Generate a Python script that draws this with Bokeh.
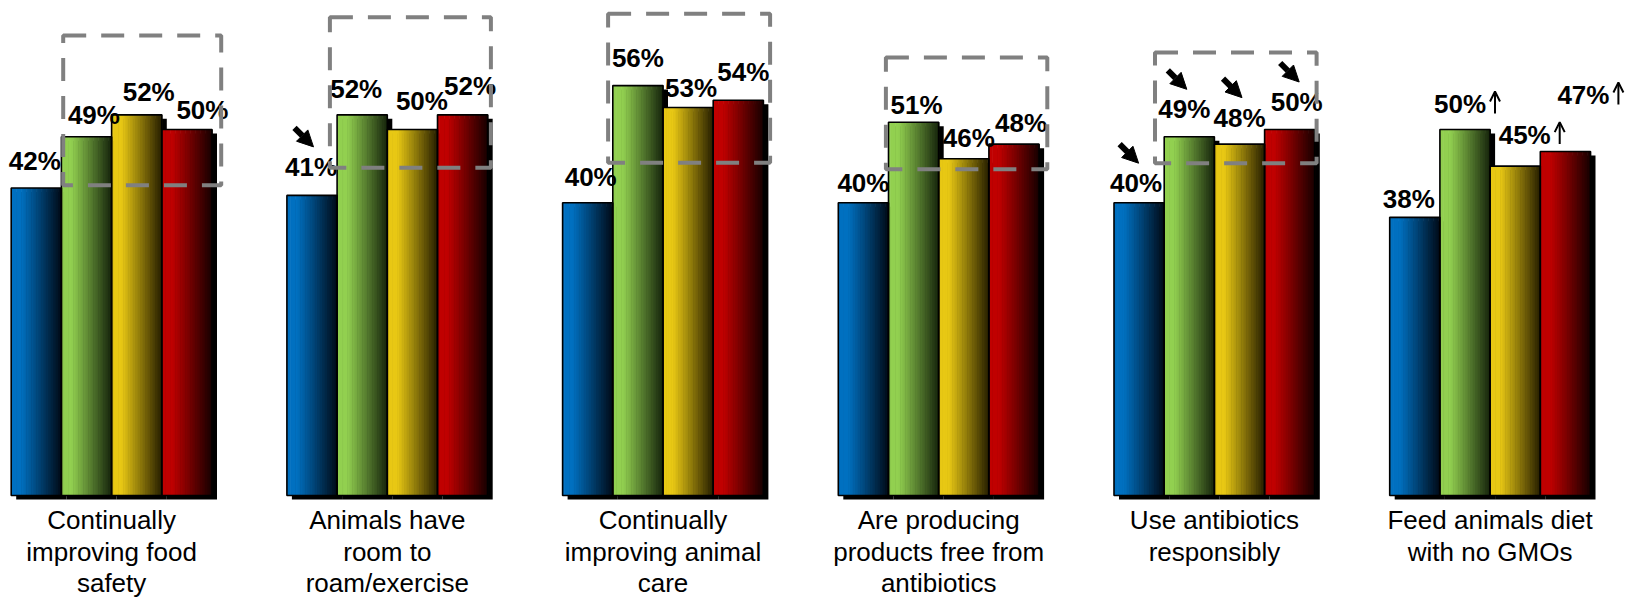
import numpy as np
from bokeh.plotting import figure
from bokeh.models import Range1d, ColumnDataSource, Arrow, NormalHead, OpenHead
from bokeh.core.properties import value
from bokeh.embed import file_html
from bokeh.resources import INLINE

# ---------------- data ----------------
categories = [
    "Continually\nimproving food\nsafety",
    "Animals have\nroom to\nroam/exercise",
    "Continually\nimproving animal\ncare",
    "Are producing\nproducts free from\nantibiotics",
    "Use antibiotics\nresponsibly",
    "Feed animals diet\nwith no GMOs",
]
series_blue = [42, 41, 40, 40, 40, 38]
series_green = [49, 52, 56, 51, 49, 50]
series_yellow = [52, 50, 53, 46, 48, 45]
series_red = [50, 52, 54, 48, 50, 47]
# significance markers ("down" = heavy diagonal arrow, "up" = thin up arrow)
trend_blue = ["", "down", "", "", "down", ""]
trend_green = ["", "", "", "", "down", "up"]
trend_yellow = ["", "", "", "", "down", "up"]
trend_red = ["", "", "", "", "down", "up"]
# highlighted groups (dashed boxes) and their vertical extent in %
box_groups = [0, 1, 2, 3, 4]
box_low = [42.1, 44.5, 45.2, 44.3, 45.1]
box_high = [63.1, 65.6, 66.1, 60.1, 60.8]

series = [series_blue, series_green, series_yellow, series_red]
trends = [trend_blue, trend_green, trend_yellow, trend_red]

# ---------------- layout / style ----------------
W, H = 1626, 600
BASE_PY = 495.0          # picture y of 0 %
K = 7.32                 # px per %
G0, GSTEP, BW = 10.7, 275.7, 50.2
TXT_UP = 9.5             # compensation of the svg text baseline

def py2v(py):
    return (BASE_PY - py) / K

color_start = [(0, 112, 192), (146, 208, 80), (232, 200, 20), (192, 0, 0)]
color_end = [(0, 10, 22), (22, 36, 12), (38, 30, 0), (22, 0, 0)]

# per-label placement offsets (px): horizontal shift and gap above bar top
lab_dx = [[-1.5, 7.4, 12, 15.5], [-1, -6, 9.5, 7.5], [3, 0, 3, 5],
          [0, 3, 5, 7], [-3, -5, 0, 7], [-6, -5, 9.5, 18]]
lab_gap = [[18, 12, 13, 10], [19, 16, 19, 19], [16, 18, 10, 19],
           [10, 8, 11, 12], [10, 18, 17, 18], [9, 16, 22, 47]]
box_left_off = [50, 41, 43.5, 45.6, 39]
box_right_off = [212, 206, 209.5, 211, 204.6]

p = figure(width=W, height=H, x_range=Range1d(0, W),
           y_range=Range1d(py2v(H), py2v(0)),
           output_backend="svg", toolbar_location=None,
           x_axis_location=None, y_axis_location=None, min_border=0)
p.grid.visible = False
p.outline_line_color = None
p.background_fill_color = "white"
p.border_fill_color = "white"

# ---------------- bars ----------------
sh_l, sh_r, sh_t, sh_b = [], [], [], []
st_l, st_r, st_t, st_b, st_c = [], [], [], [], []
ol_l, ol_r, ol_t, ol_b = [], [], [], []
N = 30
for g in range(len(categories)):
    gs = G0 + g * GSTEP
    for s in range(4):
        v = series[s][g]
        left = gs + s * BW
        right = left + BW
        sh_l.append(left + 5); sh_r.append(right + 5)
        sh_t.append(v - 4 / K); sh_b.append(-4 / K)
        for i in range(N):
            t = (i + 0.5) / N
            f = min(max((t - 0.2) / 0.8, 0.0), 1.0)
            c0, c1 = color_start[s], color_end[s]
            rgb = tuple(int(round(c0[j] + (c1[j] - c0[j]) * f)) for j in range(3))
            st_l.append(left + i * BW / N)
            st_r.append(left + (i + 1) * BW / N + 0.6)
            st_t.append(v); st_b.append(0)
            st_c.append("#%02x%02x%02x" % rgb)
        ol_l.append(left); ol_r.append(right); ol_t.append(v); ol_b.append(0)

p.quad(left=sh_l, right=sh_r, top=sh_t, bottom=sh_b, fill_color="black",
       line_color=None)
p.quad(left=st_l, right=st_r, top=st_t, bottom=st_b, fill_color=st_c,
       line_color=None)
p.quad(left=ol_l, right=ol_r, top=ol_t, bottom=ol_b, fill_color=None,
       line_color="black", line_width=1.6)

# ---------------- value labels & markers ----------------
lx, ly, lt = [], [], []
ux0, uy0, ux1, uy1 = [], [], [], []
ax0, ay0, ax1, ay1 = [], [], [], []
for g in range(len(categories)):
    gs = G0 + g * GSTEP
    for s in range(4):
        v = series[s][g]
        cx = gs + s * BW + BW / 2 + lab_dx[g][s]
        top_py = BASE_PY - K * v
        base_py = top_py - lab_gap[g][s]
        lx.append(cx); ly.append(py2v(base_py - TXT_UP)); lt.append("%d%%" % v)
        tr = trends[s][g]
        if tr == "up":
            ux0.append(cx + 35); uy0.append(py2v(base_py))
            ux1.append(cx + 35); uy1.append(py2v(base_py - 22))
        elif tr == "down":
            acx, acy = cx - 7, base_py - 39
            ax0.append(acx - 9.5); ay0.append(py2v(acy - 9.5))
            ax1.append(acx + 9.5); ay1.append(py2v(acy + 9.5))

p.text(x=lx, y=ly, text=lt, text_font=value("Liberation Sans"),
       text_font_style="bold", text_font_size="26px", text_color="black",
       text_align="center", text_baseline="alphabetic")

up_src = ColumnDataSource(dict(x0=ux0, y0=uy0, x1=ux1, y1=uy1))
p.add_layout(Arrow(end=OpenHead(size=10, line_color="black", line_width=2),
                   source=up_src, x_start="x0", y_start="y0", x_end="x1",
                   y_end="y1", line_width=2, line_color="black"))
arr_src = ColumnDataSource(dict(x0=ax0, y0=ay0, x1=ax1, y1=ay1))
p.add_layout(Arrow(end=NormalHead(size=16, fill_color="black", line_color="black",
                                  line_width=1),
                   source=arr_src, x_start="x0", y_start="y0", x_end="x1",
                   y_end="y1", line_width=6, line_color="black"))

# ---------------- dashed highlight boxes ----------------
bl, br, bt, bb = [], [], [], []
for i, g in enumerate(box_groups):
    gs = G0 + g * GSTEP
    bl.append(gs + box_left_off[i] + 2); br.append(gs + box_right_off[i] - 2)
    bt.append(box_high[i] - 2 / K); bb.append(box_low[i] + 2 / K)
p.quad(left=bl, right=br, top=bt, bottom=bb, fill_color=None,
       line_color="#808080", line_width=4, line_dash="23 15")

# ---------------- category labels ----------------
cx_, cy_, ct_ = [], [], []
line_py = [529, 561, 592]
for g, cat in enumerate(categories):
    gs = G0 + g * GSTEP
    for j, line in enumerate(cat.split("\n")):
        cx_.append(gs + 2 * BW); cy_.append(py2v(line_py[j] - TXT_UP))
        ct_.append(line)
p.text(x=cx_, y=cy_, text=ct_, text_font=value("Liberation Sans"),
       text_font_size="26px", text_color="black", text_align="center",
       text_baseline="alphabetic")

open("out.html", "w").write(file_html(p, INLINE))
